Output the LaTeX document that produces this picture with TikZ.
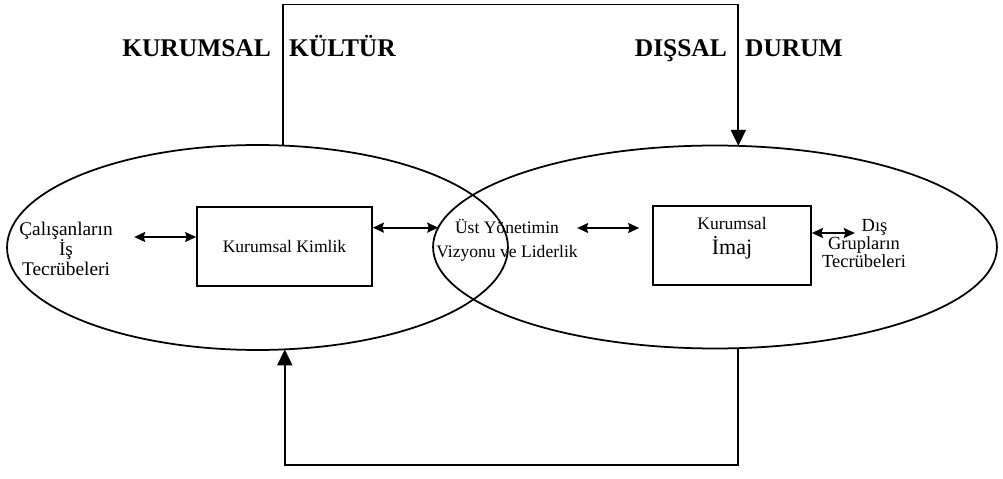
\documentclass[tikz,border=0pt]{standalone}
\usepackage{fontspec}
\setmainfont{Liberation Serif}
\usetikzlibrary{positioning,arrows.meta,calc,shapes.geometric}

\begin{document}
\begin{tikzpicture}[x=0.02cm, y=-0.02cm,
    >={Stealth[length=0.22cm,width=0.2cm,inset=0.03cm]},
    every node/.style={font=\fontsize{10}{12}\selectfont, align=center, inner sep=1pt},
    oval/.style={draw, ellipse, line width=1pt, inner sep=0pt, outer sep=0pt},
    kutu/.style={draw, line width=1pt, minimum width=3.5cm, minimum height=1.58cm},
    baslik/.style={font=\fontsize{14.5}{17}\selectfont\bfseries},
    bigtip/.style={-{Triangle[length=0.32cm,width=0.3cm]}, line width=1pt}]
  \useasboundingbox (0,0) rectangle (1003,479);
  % the two circles
  \node[oval, minimum width=10.02cm, minimum height=4.1cm] (leftell) at (257.5,247.5) {};
  \node[oval, minimum width=11.28cm, minimum height=4.06cm] (rightell) at (715,247) {};
  % titles
  \node[baslik, anchor=base east] (kurumsal) at (273,57) {KURUMSAL};
  \node[baslik, anchor=base west] (kultur) at (287,57) {KÜLTÜR};
  \node[baslik, anchor=base east] (dissal) at (729,57) {DIŞSAL};
  \node[baslik, anchor=base west] (durum) at (743,57) {DURUM};
  % boxes and texts
  \node[kutu] (identity) at (284.5,246.5) {Kurumsal Kimlik};
  \node[kutu, minimum width=3.16cm] (image) at (732,245.5) {};
  \node[yshift=0.15cm] (imagetext) at (image.center)
      {Kurumsal\\[2pt]{\fontsize{12.5}{14}\selectfont İmaj}};
  \node[font=\fontsize{11}{11.5}\selectfont] (employees) at (66,249)
      {Çalışanların\\İş\\Tecrübeleri};
  \node[font=\fontsize{10}{13.7}\selectfont] (vision) at (507,240)
      {Üst Yönetimin\\Vizyonu ve Liderlik};
  \node[font=\fontsize{10.5}{10.5}\selectfont] (groups) at (864,243.5)
      {\hspace*{12pt}Dış\\Grupların\\Tecrübeleri};
  % double arrows
  \draw[<->, line width=1pt] ([yshift=0.19cm]identity.west) -- ++(-1.24cm,0);
  \draw[<->, line width=1pt] (identity.east |- rightell.176.1) -- (rightell.176.1);
  \draw[<->, line width=1pt] ([xshift=-0.26cm,yshift=0.35cm]image.west) -- ++(-1.24cm,0);
  \draw[<->, line width=1pt] ([yshift=0.25cm]image.east) -- ++(0.86cm,0);
  % loop over the top and the bottom
  \draw[bigtip] (leftell.76.8) -- ++(0,-141) -| (rightell.77.8);
  \draw[bigtip] (rightell.-77.6) -- ++(0,117) -| (leftell.-75.8);
\end{tikzpicture}
\end{document}
